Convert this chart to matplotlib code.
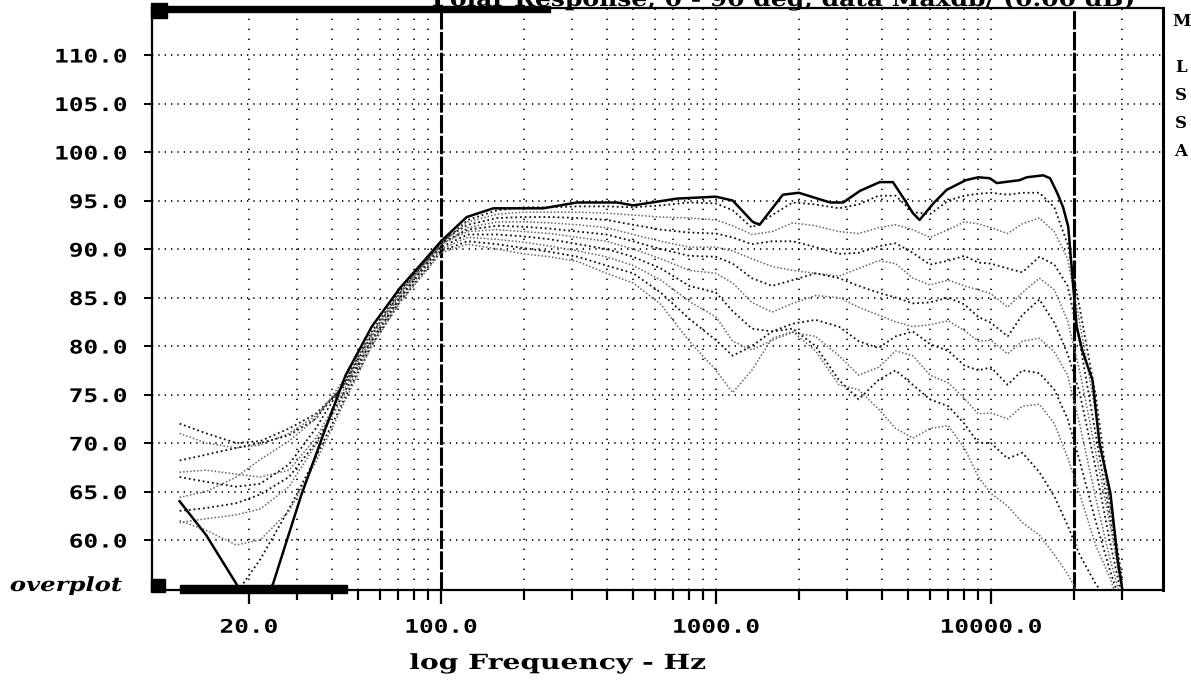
import numpy as np
import matplotlib
matplotlib.use("Agg")
import matplotlib.pyplot as plt
import matplotlib.patheffects as pe
from matplotlib.transforms import Affine2D
from matplotlib.patches import Rectangle

W, H = 1191, 682

# on-axis response (solid trace)
f_on = [11.2, 14, 18, 21, 24.5, 31, 38, 45, 56, 71, 85, 100, 124, 155, 235, 312,
        437, 500, 720, 1000, 1150, 1360, 1440, 1750, 2000, 2600, 2900, 3340, 3940,
        4400, 4870, 5200, 5500, 6170, 6900, 8100, 9000, 9900, 10500, 12700, 13500,
        15500, 16400, 17400, 18300, 19100, 19800, 20500, 21500, 23400, 24800,
        27200, 28900, 30400]
db_on = [64, 60.5, 55.5, 52, 55.5, 64.6, 71.5, 77, 82, 86, 88.5, 90.8, 93.3, 94.2,
         94.2, 94.8, 94.8, 94.5, 95.2, 95.4, 95, 92.8, 92.5, 95.6, 95.8, 94.8, 94.8,
         96, 96.9, 96.9, 95, 93.7, 93, 94.7, 96.1, 97.1, 97.4, 97.3, 96.8, 97.1, 97.4,
         97.6, 97.3, 95.8, 94.3, 92.3, 87, 82, 79.5, 76.5, 70, 64.8, 57.9, 54]

# off-axis responses (dotted traces), shared frequency grid
freq = [11.2, 14, 18, 22, 28, 35, 45, 56, 71, 100, 125, 160, 200, 250, 315, 400,
        500, 630, 800, 1000, 1150, 1350, 1600, 1900, 2300, 2800, 3300, 3900, 4500,
        5200, 6000, 7000, 8000, 9000, 10000, 11500, 13000, 15000, 17000, 19000,
        21000, 24000, 27000, 30000]

off1 = [72, 71, 70, 70.2, 71.5, 73, 76, 80.5, 85, 90.5, 93, 94, 94.3, 94.3, 94.4, 94.4,
        94.3, 94.5, 94.8, 94.7, 94.0, 92.2, 93.5, 94.8, 94.6, 94.2, 94.6, 95.5, 95.5,
        93.8, 93.6, 95, 95.5, 95.7, 95.8, 95.6, 95.8, 95.8, 94.3, 90.5, 84, 75, 64.2, 56]
off2 = [71, 70, 69.5, 69.8, 71, 72.8, 76.2, 81, 85.3, 90.6, 92.8, 93.6, 93.8, 93.8, 93.8, 93.7,
        93.5, 93.3, 93.2, 93, 92.4, 91.5, 91.8, 92.7, 92.4, 91.8, 91.6, 92.2, 92.5,
        92, 91.2, 92, 92.8, 92.6, 92.2, 91.6, 92.6, 93.2, 91.8, 89, 82.5, 73.2, 63.5, 55.5]
off3 = [68.2, 68.8, 69.5, 70, 70.8, 72.5, 76.3, 81.2, 85.5, 90.8, 92.5, 93.2, 93.3, 93.3, 93.2, 93,
        92.5, 92.0, 91.7, 91.6, 91.2, 90.5, 90.8, 90.8, 90.2, 89.5, 89.6, 90.3, 90.6,
        89.6, 88.4, 88.8, 89.3, 88.6, 88.5, 88, 87.6, 89.2, 88.4, 86.2, 80.5, 71, 62.6, 55]
off4 = [67, 67.2, 66.8, 66.5, 67.2, 70.5, 75.8, 80.8, 85.2, 90.4, 92.2, 92.8, 92.8, 92.7, 92.5, 92.2,
        91.5, 90.8, 90.2, 90.2, 89.8, 89, 88.2, 87.8, 87.5, 87.2, 88, 88.8, 88.5,
        87, 86.3, 86.8, 86.2, 85.8, 85.4, 84, 85.5, 87, 85.8, 82.6, 77.5, 69.2, 61.8, 54.6]
off5 = [66.5, 66, 65.5, 65.8, 67.8, 71.5, 76.5, 81.5, 85.7, 90.6, 92, 92.4, 92.3, 92.1, 91.8, 91.5,
        90.8, 90, 89.3, 89.2, 88.5, 87, 86.2, 86.8, 87.5, 87, 86.2, 85.5, 85,
        84.4, 84.5, 85, 84.3, 83, 82.4, 81, 83.2, 84.8, 82.4, 79.2, 75.2, 67.5, 60, 54]
off6 = [64.4, 65, 66.5, 68.3, 70.2, 72.5, 76.8, 81.3, 85.5, 90.5, 91.8, 92, 91.8, 91.6, 91.2, 90.8,
        90, 89, 87.8, 87.5, 86.5, 84.5, 83.5, 84.4, 85.2, 85, 84, 83.2, 82.5,
        82, 82.2, 82.6, 81.6, 80.5, 80.6, 79.2, 80.5, 80.8, 79.4, 77, 72, 64.4, 58.2, 53.5]
off7 = [63, 63.3, 63.8, 64.7, 66.5, 70, 75.5, 80.6, 85, 90.2, 91.5, 91.5, 91.3, 91, 90.5, 90,
        89.2, 88, 86.2, 85.5, 83.6, 81.8, 81.5, 82.3, 82.7, 82, 80.5, 79.8, 81,
        81.5, 80.2, 79.5, 78, 77.5, 77.8, 76, 77.5, 77.2, 75.5, 72.5, 68.2, 62, 57, 53]
off8 = [61.8, 62.2, 62.6, 63.2, 65.5, 69.8, 75.2, 80.4, 84.8, 90, 91.2, 91, 90.7, 90.3, 89.8, 89.2,
        88.3, 86.8, 84.6, 83, 80.5, 79.6, 80.6, 81.4, 81, 79, 77, 77.8, 79.5,
        79, 77, 76.2, 74.6, 73, 73.1, 72.5, 73.8, 74, 72, 68.5, 64.8, 59.5, 56.2, 52.5]
off9 = [50, 51.5, 54.5, 58, 63.2, 68.5, 74.8, 80.1, 84.6, 89.8, 90.8, 90.5, 90.1, 89.7, 89.2, 88.3,
        87.5, 85.5, 82.8, 80.6, 79, 80, 81.5, 81.8, 80, 76.5, 74.5, 76.5, 77.5,
        76, 74.5, 73.8, 72, 70, 70, 68.4, 69, 67, 64.5, 61.5, 58.5, 55.5, 53.5, 51.5]
off10 = [62, 61, 59.5, 60, 63, 68, 74.5, 80, 84.5, 89.6, 90.5, 90, 89.5, 89.2, 88.7, 87.5,
         86.5, 84.3, 80.5, 77.5, 75.2, 77.5, 80.8, 81.5, 79.5, 76, 75.5, 73.5, 71.5,
         70.5, 71.5, 71.8, 69.5, 66.5, 64.8, 63.5, 61.8, 60.5, 58.5, 56.5, 54.2, 52, 51, 50.5]
off_axis = [off1, off2, off3, off4, off5, off6, off7, off8, off9, off10]

y_ticks = [60, 65, 70, 75, 80, 85, 90, 95, 100, 105, 110]
x_major = [20, 100, 1000, 10000]
x_major_labels = ["20.0", "100.0", "1000.0", "10000.0"]
x_minor = [30, 40, 50, 60, 70, 80, 90, 200, 300, 400, 500, 600, 700, 800, 900,
           2000, 3000, 4000, 5000, 6000, 7000, 8000, 9000, 20000, 30000]
grid_freqs = [20, 30, 40, 50, 60, 70, 80, 90, 200, 300, 400, 500, 600, 700, 800, 900,
              1000, 2000, 3000, 4000, 5000, 6000, 7000, 8000, 9000, 10000, 30000]
markers = [100, 20000]


class Wide(pe.AbstractPathEffect):
    """Stretch text horizontally, like the old wide printer font."""
    def __init__(self, sx=1.3, anchor="center"):
        super().__init__()
        self.sx = sx
        self.anchor = anchor

    def draw_path(self, renderer, gc, tpath, affine, rgbFace=None):
        ext = tpath.get_extents()
        xa = {"left": ext.x0, "center": 0.5 * (ext.x0 + ext.x1), "right": ext.x1}[self.anchor]
        aff = Affine2D().translate(-xa, 0).scale(self.sx, 1).translate(xa, 0) + affine
        renderer.draw_path(gc, tpath, aff, rgbFace)


def px(x, y):
    return x / W, 1 - y / H


fig = plt.figure(figsize=(W / 100, H / 100), dpi=100)
ax = fig.add_axes([152 / W, 1 - 590 / H, (1163 - 152) / W, (590 - 8) / H])
ax.set_xscale("log")
ax.set_xlim(8.89, 42230)
ax.set_ylim(54.85, 114.85)

# dotted grid
for v in y_ticks:
    ax.axhline(v, color="black", lw=1.2, ls=(0, (0.8, 3.0)), zorder=1)
for f in grid_freqs:
    ax.axvline(f, color="black", lw=1.2, ls=(0, (0.8, 5.2)), zorder=1)
for f in markers:
    ax.axvline(f, color="black", lw=2.2, ls=(0, (6, 0.8)), zorder=2)

# traces
for i, vals in enumerate(off_axis):
    if i % 2 == 0:
        ax.plot(freq, vals, color="#111111", lw=1.3, ls=(0, (1, 1.6)), zorder=3)
    else:
        ax.plot(freq, vals, color="#666666", lw=1.1, ls=(0, (1, 1.3)), zorder=3)
ax.plot(f_on, db_on, color="black", lw=1.8, zorder=4)

# axes, ticks
for s in ax.spines.values():
    s.set_linewidth(1.6)
ax.spines["right"].set_linewidth(2.2)

ax.set_yticks(y_ticks)
ax.set_yticklabels([f"{v:.1f}" for v in y_ticks])
ax.set_xticks(x_major)
ax.set_xticklabels(x_major_labels)
ax.set_xticks(x_minor, minor=True)
ax.xaxis.set_minor_formatter(matplotlib.ticker.NullFormatter())
ax.tick_params(axis="x", which="major", direction="out", length=10, width=1.6, pad=10)
ax.tick_params(axis="x", which="minor", direction="out", length=7, width=1.6)
ax.tick_params(axis="y", which="both", direction="out", length=6, width=1.4, pad=12)
ax.yaxis.set_minor_locator(matplotlib.ticker.NullLocator())

tick_font = dict(family="DejaVu Sans Mono", weight="bold", size=13.5)
for lbl in ax.get_yticklabels():
    lbl.set(**tick_font)
    lbl.set_path_effects([Wide(1.3, "right")])
for lbl in ax.get_xticklabels():
    lbl.set(**tick_font)
    lbl.set_path_effects([Wide(1.3, "center")])

# scroll bars / indicator blocks
for (x0, y0, x1, y1) in [(151, 3, 167, 18), (167, 6, 550, 12),
                         (151, 579, 165, 592), (180, 585, 347, 593)]:
    fig.add_artist(Rectangle(px(x0, y1), (x1 - x0) / W, (y1 - y0) / H,
                             transform=fig.transFigure, color="black", zorder=10))

# texts
t = fig.text(*px(10, 586), "overplot", family="DejaVu Serif", weight="bold",
             style="italic", size=14, ha="left", va="center")
t.set_path_effects([Wide(1.25, "left")])

t = fig.text(*px(558, 663), "log Frequency - Hz", family="DejaVu Serif",
             weight="bold", size=15, ha="center", va="center")
t.set_path_effects([Wide(1.35, "center")])

t = fig.text(*px(1136, 0), "Polar Response, 0 - 90 deg, data Maxdb/ (0.00 dB)",
             family="DejaVu Serif", weight="bold", size=15, ha="right", va="center")
t.set_path_effects([Wide(1.2, "right")])

for ch, yy in zip("MLSSA", [22, 67, 95, 123, 152]):
    fig.text(*px(1181, yy), ch, family="DejaVu Serif", weight="bold", size=12,
             ha="center", va="center")

fig.savefig("out.png", dpi=100)
